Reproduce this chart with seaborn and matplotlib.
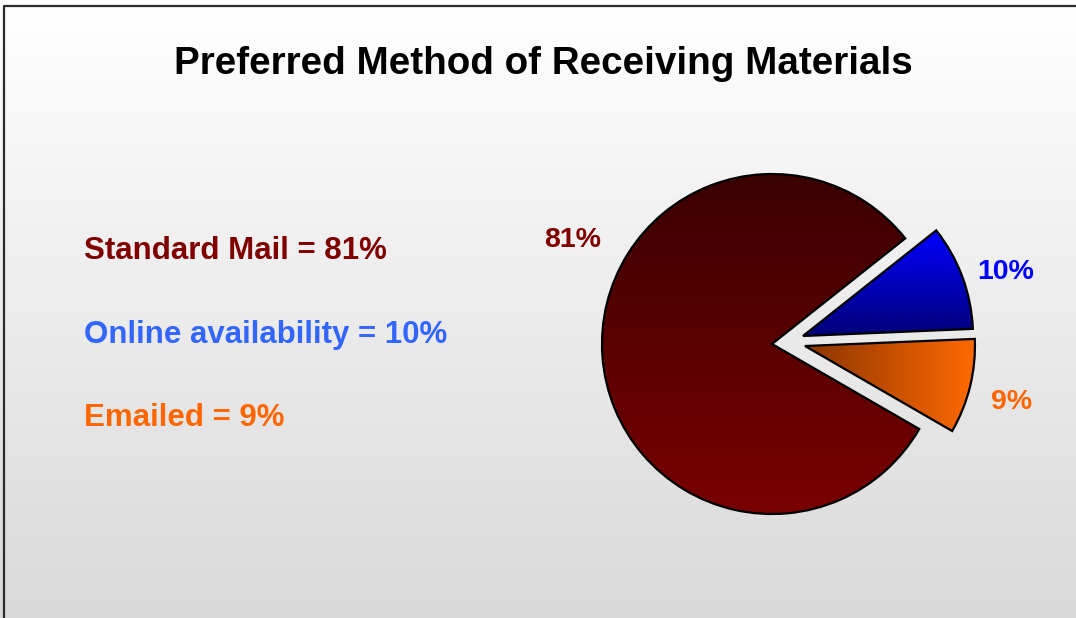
import numpy as np
import matplotlib
matplotlib.use("Agg")
import matplotlib.pyplot as plt
from matplotlib.lines import Line2D
import seaborn as sns

# Survey results
categories = ["Standard Mail", "Online availability", "Emailed"]
shares = [81, 10, 9]
title = "Preferred Method of Receiving Materials"

# Text colours per category and the gradient stops used inside each slice
text_colors = ["#800000", "#3366ff", "#ff6600"]
label_colors = ["#800000", "#0000ff", "#ff6600"]
grad_stops = [("#7a0000", "#3a0000", "v"),
              ("#000078", "#0000ff", "v"),
              ("#8a3400", "#ff6a00", "h")]

sns.set_theme(style="white")
plt.rcParams["font.family"] = ["Liberation Sans", "DejaVu Sans"]

W, H = 1076, 618
fig = plt.figure(figsize=(W / 100, H / 100), dpi=100)

# Soft white-to-grey backdrop
bg = fig.add_axes([0, 0, 1, 1])
bg.axis("off")
bg_cmap = sns.blend_palette(["#d9d9d9", "#ffffff"], as_cmap=True)
bg.imshow(np.linspace(0, 1, 256).reshape(-1, 1), cmap=bg_cmap, origin="lower",
          aspect="auto", extent=(0, 1, 0, 1))
bg.set_xlim(0, 1)
bg.set_ylim(0, 1)

# Frame line along the top and left edges
fig.add_artist(Line2D([3.5 / W, 3.5 / W, 1.05], [-0.05, 1 - 5.5 / H, 1 - 5.5 / H],
                      transform=fig.transFigure, color="#2b2b2b", lw=1.6))

ax = fig.add_axes([0, 0, 1, 1])
ax.patch.set_alpha(0)

R = 170
C = (772, 274)
wedges, _ = ax.pie(shares, startangle=330, counterclock=False, center=C, radius=R,
                   wedgeprops=dict(linewidth=1.6, edgecolor="black", facecolor="none"))

# Pull the two small slices away from the body (distance in px, direction in deg)
pull = [(0, 0), (32, 14.5), (33, -3.5)]
for w, (d, ang) in zip(wedges, pull):
    a = np.deg2rad(ang)
    w.set_center((C[0] + d * np.cos(a), C[1] + d * np.sin(a)))

ramp = np.linspace(0, 1, 256)
for w, (c0, c1, d) in zip(wedges, grad_stops):
    w.set_zorder(3)
    bb = w.get_path().get_extents()
    cmap = sns.blend_palette([c0, c1], as_cmap=True)
    img = ramp.reshape(-1, 1) if d == "v" else ramp.reshape(1, -1)
    im = ax.imshow(img, cmap=cmap, origin="lower", aspect="auto",
                   extent=(bb.x0, bb.x1, bb.y0, bb.y1), zorder=2)
    im.set_clip_path(w)

# Percentage labels around the pie (angle in degrees, distance in radii)
label_pos = [(152.5, 1.32), (17.0, 1.44), (-13.5, 1.45)]
for v, col, (ang, dist) in zip(shares, label_colors, label_pos):
    a = np.deg2rad(ang)
    ax.text(C[0] + dist * R * np.cos(a), C[1] + dist * R * np.sin(a), f"{v}%",
            color=col, fontsize=20.5, fontweight="bold", ha="center", va="center")

ax.set_xlim(0, W)
ax.set_ylim(0, H)
ax.set_aspect("equal")
ax.axis("off")

# Category summary on the left
for i, (cat, v, col) in enumerate(zip(categories, shares, text_colors)):
    fig.text(84 / W, 1 - (251 + i * 83.5) / H, f"{cat} = {v}%", color=col,
             fontsize=22.5, fontweight="bold", ha="left", va="center")

fig.text(543 / W, 1 - 63.5 / H, title, fontsize=27.8, fontweight="bold",
         ha="center", va="center", color="black")

fig.savefig("out.png", dpi=100)
